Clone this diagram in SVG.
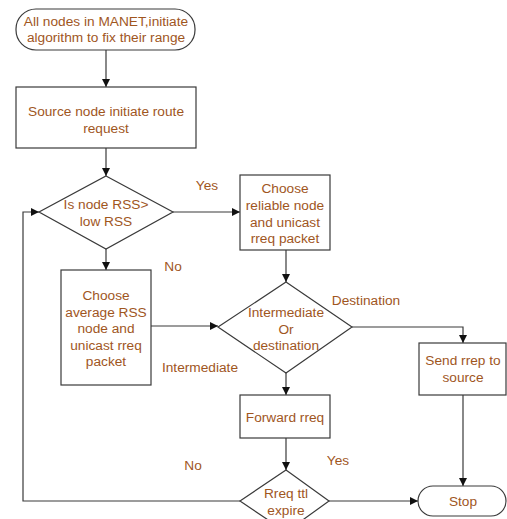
<svg xmlns="http://www.w3.org/2000/svg" width="507" height="519" viewBox="0 0 507 519">
  <style>
    .shape { fill: #ffffff; stroke: #3a3a3a; stroke-width: 1.2; }
    .edge { fill: none; stroke: #3a3a3a; stroke-width: 1.2; }
    text { font-family: "Liberation Sans", Arial, sans-serif; font-size: 13.7px; fill: #a0561e; text-anchor: middle; dominant-baseline: central; }
  </style>
  <defs>
    <marker id="arrow" viewBox="0 0 10 10" refX="10" refY="5" markerWidth="8" markerHeight="8" markerUnits="userSpaceOnUse" orient="auto">
      <path d="M0,0 L10,5 L0,10 Z" fill="#111111"/>
    </marker>
  </defs>
  <rect width="507" height="519" fill="#ffffff"/>

  <g id="connectors">
    <path class="edge" d="M106,50 V87" marker-end="url(#arrow)"/>
    <path class="edge" d="M106,148 V176" marker-end="url(#arrow)"/>
    <path class="edge" d="M173,212 H240" marker-end="url(#arrow)"/>
    <path class="edge" d="M106,249 V270" marker-end="url(#arrow)"/>
    <path class="edge" d="M286,250 V282" marker-end="url(#arrow)"/>
    <path class="edge" d="M151,326 H218" marker-end="url(#arrow)"/>
    <path class="edge" d="M352,327 H463 V343" marker-end="url(#arrow)"/>
    <path class="edge" d="M286,373 V395" marker-end="url(#arrow)"/>
    <path class="edge" d="M286,438 V470" marker-end="url(#arrow)"/>
    <path class="edge" d="M329,501 H418" marker-end="url(#arrow)"/>
    <path class="edge" d="M463,395 V486" marker-end="url(#arrow)"/>
    <path class="edge" d="M240,501 H23 V212 H39" marker-end="url(#arrow)"/>
    <text x="207" y="185">Yes</text>
    <text x="173" y="266">No</text>
    <text x="200" y="367">Intermediate</text>
    <text x="366" y="300">Destination</text>
    <text x="338" y="460">Yes</text>
    <text x="193" y="465">No</text>
  </g>

  <g id="start">
    <rect class="shape" x="16" y="9" width="179" height="41" rx="20" ry="20"/>
    <text x="106" y="21">All nodes in MANET,initiate</text>
    <text x="106" y="37">algorithm to fix their range</text>
  </g>

  <g id="route-request">
    <rect class="shape" x="16" y="87" width="180" height="61"/>
    <text x="106" y="111">Source node initiate route</text>
    <text x="106" y="128">request</text>
  </g>

  <g id="rss-check">
    <polygon class="shape" points="106,176 173,212 106,249 39,212"/>
    <text x="106" y="204">Is node RSS&gt;</text>
    <text x="106" y="221">low RSS</text>
  </g>

  <g id="reliable-node">
    <rect class="shape" x="240" y="175" width="90" height="75"/>
    <text x="285" y="188">Choose</text>
    <text x="285" y="205">reliable node</text>
    <text x="285" y="222">and unicast</text>
    <text x="285" y="238">rreq packet</text>
  </g>

  <g id="average-node">
    <rect class="shape" x="61" y="270" width="90" height="115"/>
    <text x="106" y="295">Choose</text>
    <text x="106" y="312">average RSS</text>
    <text x="106" y="328">node and</text>
    <text x="106" y="345">unicast rreq</text>
    <text x="106" y="361">packet</text>
  </g>

  <g id="node-type">
    <polygon class="shape" points="286,282 352,327 286,373 218,327"/>
    <text x="286" y="312">Intermediate</text>
    <text x="286" y="329">Or</text>
    <text x="286" y="345">destination</text>
  </g>

  <g id="send-rrep">
    <rect class="shape" x="419" y="343" width="87" height="52"/>
    <text x="463" y="360">Send rrep to</text>
    <text x="463" y="377">source</text>
  </g>

  <g id="forward-rreq">
    <rect class="shape" x="240" y="395" width="90" height="43"/>
    <text x="285" y="417">Forward rreq</text>
  </g>

  <g id="ttl-check">
    <polygon class="shape" points="286,470 329,501 286,532 240,501"/>
    <text x="286" y="493">Rreq ttl</text>
    <text x="286" y="510">expire</text>
  </g>

  <g id="stop">
    <rect class="shape" x="418" y="486" width="88" height="30" rx="15" ry="15"/>
    <text x="463" y="501">Stop</text>
  </g>
</svg>
